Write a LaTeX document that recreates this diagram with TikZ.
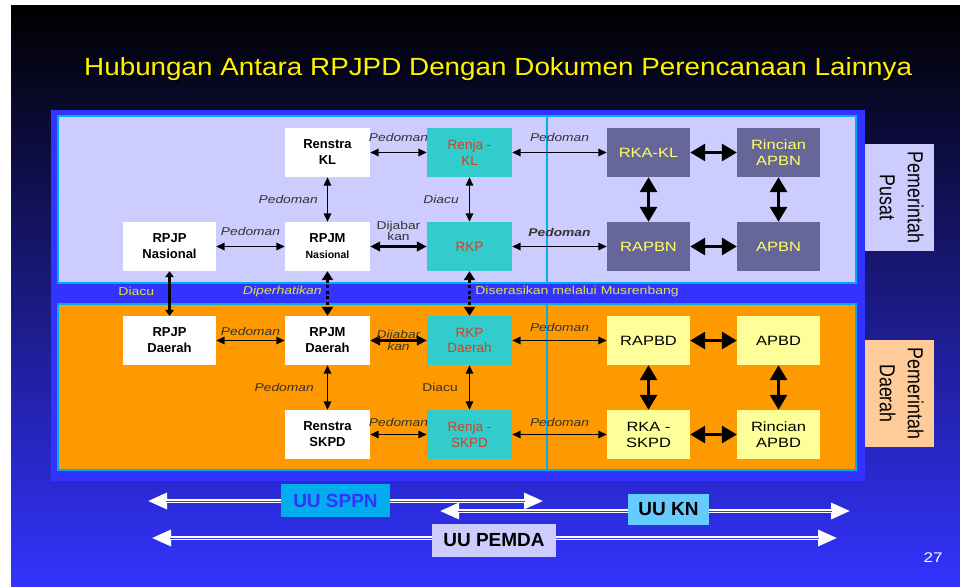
\documentclass[tikz,border=0pt]{standalone}
\usepackage{graphicx}
\usepackage{fontspec}
\setmainfont{Liberation Sans}
\newfontfamily\widesans{Liberation Sans}[FakeStretch=1.22]
\usetikzlibrary{arrows.meta,positioning}

\definecolor{panelblue}{RGB}{51,51,255}
\definecolor{lavender}{RGB}{204,204,255}
\definecolor{oranye}{RGB}{255,153,0}
\definecolor{tosca}{RGB}{51,204,204}
\definecolor{ungu}{RGB}{102,102,153}
\definecolor{krem}{RGB}{255,255,153}
\definecolor{karat}{RGB}{204,68,34}
\definecolor{kuningtxt}{RGB}{255,255,102}
\definecolor{kuningredup}{RGB}{225,225,70}
\definecolor{persik}{RGB}{255,204,153}
\definecolor{birumuda}{RGB}{102,204,255}

\newcommand\judul{Hubungan Antara RPJPD Dengan Dokumen Perencanaan Lainnya}

\begin{document}
\begin{tikzpicture}[x=1pt, y=-1pt,
  boxdok/.style={minimum width=85pt, minimum height=49pt, inner sep=0pt, align=center},
  boxputih/.style={boxdok, fill=white, font=\bfseries\fontsize{13}{16}\selectfont},
  boxtosca/.style={boxdok, fill=tosca, text=karat, font=\fontsize{13.5}{15.5}\selectfont},
  boxungu/.style={boxdok, minimum width=83pt, fill=ungu, text=kuningtxt, font=\widesans\fontsize{13.5}{16}\selectfont},
  boxkrem/.style={boxdok, minimum width=83pt, fill=krem, text=black, font=\widesans\fontsize{13.5}{16}\selectfont},
  lbl/.style={font=\widesans\itshape\fontsize{11.3}{11.5}\selectfont, text=black!80, inner sep=1pt, align=center},
  lbltegak/.style={lbl, font=\widesans\fontsize{11.3}{11.5}\selectfont},
  lblkuning/.style={lbltegak, text=kuningredup, font=\widesans\fontsize{11.5}{13}\selectfont},
  panah/.style={<->, >={Triangle[length=8.5pt,width=7.5pt]}, line width=1.6pt},
  panahtebal/.style={<->, >={Triangle[length=10pt,width=9.5pt]}, line width=3pt},
  panahgemuk/.style={<->, >={Triangle[length=15pt,width=17pt]}, line width=3pt},
  panahtitik/.style={<->, >={Triangle[length=9pt,width=11pt]}, line width=3.5pt, dash pattern=on 3pt off 2.5pt},
  panahuu/.style={<->, >={Triangle[length=19pt,width=16pt]}, white, line width=3.2pt,
    postaction={draw=panelblue, -, line width=0.9pt, shorten <=18pt, shorten >=18pt}},
  boxuu/.style={inner sep=0pt, font=\bfseries\fontsize{19}{22}\selectfont},
  boxsisi/.style={rotate=-90, minimum width=107pt, minimum height=69pt, inner sep=0pt, font=\fontsize{17.8}{23}\selectfont}
]
\useasboundingbox (0,0) rectangle (960,586);
\fill[white] (0,0) rectangle (960,586);
\shade[top color=black, bottom color=panelblue] (11,6) rectangle (960,586);

% judul
\node[anchor=base west, inner sep=0pt, text=black] (JUDULB) at (85.5,77.5) {\resizebox{828pt}{18pt}{\judul}};
\node[anchor=base west, inner sep=0pt, text=yellow] (JUDUL) at (84,76) {\resizebox{828pt}{18pt}{\judul}};

% panel
\fill[panelblue] (51,110) rectangle (865,481);
\filldraw[fill=lavender, draw=cyan, line width=2pt] (58,116) rectangle (856,283);
\filldraw[fill=oranye, draw=cyan, line width=2pt] (58,304) rectangle (856,470);
\draw[cyan, line width=1.5pt] (547,116) -- (547,283) (547,304) -- (547,470);

\node[boxsisi, fill=lavender] (PUSAT) at (899.5,197.5) {\scalebox{1}[1.22]{\begin{tabular}{@{}c@{}}Pemerintah\\Pusat\end{tabular}}};
\node[boxsisi, fill=persik] (DAERAH) at (899.5,393.5) {\scalebox{1}[1.22]{\begin{tabular}{@{}c@{}}Pemerintah\\Daerah\end{tabular}}};

%============ pusat
\node[boxputih] (RSKL) at (327.5,152.5) {Renstra\\KL};
\node[boxputih] (RPJMN) at (327.5,246.5) {RPJM\\{\fontsize{10.5}{12}\selectfont Nasional}};
\node[boxputih, minimum width=93pt] (RPJPN) at (169.5,246.5) {RPJP\\Nasional};
\node[boxtosca] (RJKL) at (469.5,152.5) {Renja -\\KL};
\node[boxtosca] (RKP) at (469.5,246.5) {RKP};
\node[boxungu] (RKAKL) at (648.5,152.5) {RKA-KL};
\node[boxungu] (RINAPBN) at (778.5,152.5) {Rincian\\APBN};
\node[boxungu] (RAPBN) at (648.5,246.5) {RAPBN};
\node[boxungu] (APBN) at (778.5,246.5) {APBN};
%============ daerah
\node[boxputih, minimum width=93pt] (RPJPD) at (169.5,340.5) {RPJP\\Daerah};
\node[boxputih] (RPJMD) at (327.5,340.5) {RPJM\\Daerah};
\node[boxputih] (RSSKPD) at (327.5,434.5) {Renstra\\SKPD};
\node[boxtosca] (RKPD) at (469.5,340.5) {RKP\\Daerah};
\node[boxtosca] (RJSKPD) at (469.5,434.5) {Renja -\\SKPD};
\node[boxkrem] (RAPBD) at (648.5,340.5) {RAPBD};
\node[boxkrem] (APBD) at (778.5,340.5) {APBD};
\node[boxkrem] (RKASKPD) at (648.5,434.5) {RKA -\\SKPD};
\node[boxkrem] (RINAPBD) at (778.5,434.5) {Rincian\\APBD};
%==========

\draw[panah] (RSKL) -- node[lbl, above=9pt] {Pedoman} (RJKL);
\draw[panah] (RJKL) -- node[lbl, above=9pt] {Pedoman} (RKAKL);
\draw[panah] (RSKL) -- node[lbl, left=8pt] {Pedoman} (RPJMN);
\draw[panah] (RPJPN) -- node[lbl, above=9pt] {Pedoman} (RPJMN);
\draw[panahtebal] (RPJMN) -- node[lbltegak, above=3pt] {Dijabar\\kan} (RKP);
\draw[panah] (RJKL) -- node[lbl, left=9pt] {Diacu} (RKP);
\draw[panah] (RKP) -- node[lbl, above=8pt, font=\widesans\bfseries\itshape\fontsize{11.3}{11.5}\selectfont] {Pedoman} (RAPBN);
\draw[panahgemuk] (RKAKL) -- (RINAPBN);
\draw[panahgemuk] (RAPBN) -- (APBN);
\draw[panahgemuk] (RKAKL) -- (RAPBN);
\draw[panahgemuk] (RINAPBN) -- (APBN);

\draw[<->, >={Triangle[length=6pt,width=8.5pt]}, line width=2.5pt] (RPJPN) -- node[lblkuning, left=13pt, pos=0.45] {Diacu} (RPJPD);
\draw[panahtitik] (RPJMN) -- node[lblkuning, left=3pt, pos=0.45, font=\widesans\itshape\fontsize{11.5}{13}\selectfont] {Diperhatikan} (RPJMD);
\draw[panahtitik] (RKP) -- node[lblkuning, right=3pt, pos=0.45] {Diserasikan melalui Musrenbang} (RKPD);

\draw[panah] (RPJPD) -- node[lbl, above=3.5pt] {Pedoman} (RPJMD);
\draw[panahtebal] (RPJMD) -- node[lbl] {Dijabar\\kan} (RKPD);
\draw[panah] (RPJMD) -- node[lbl, left=12pt] {Pedoman} (RSSKPD);
\draw[panah] (RSSKPD) -- node[lbl, above=6pt] {Pedoman} (RJSKPD);
\draw[panah] (RKPD) -- node[lbltegak, left=10pt] {Diacu} (RJSKPD);
\draw[panah] (RKPD) -- node[lbl, above=7.5pt] {Pedoman} (RAPBD);
\draw[panah] (RJSKPD) -- node[lbl, above=6pt] {Pedoman} (RKASKPD);
\draw[panahgemuk] (RAPBD) -- (APBD);
\draw[panahgemuk] (RKASKPD) -- (RINAPBD);
\draw[panahgemuk] (RAPBD) -- (RKASKPD);
\draw[panahgemuk] (APBD) -- (RINAPBD);

% undang-undang
\coordinate (SPPNa) at (148,501);
\coordinate (SPPNb) at (543,501);
\coordinate (KNa) at (440,511);
\coordinate (KNb) at (850,511);
\coordinate (PEMDAa) at (152,538);
\coordinate (PEMDAb) at (837,538);
\draw[panahuu] (SPPNa) -- (SPPNb);
\node[boxuu, fill=cyan, text=panelblue, minimum width=109pt, minimum height=33pt] (UUSPPN) at (335.5,500.5) {UU SPPN};
\draw[panahuu] (KNa) -- (KNb);
\node[boxuu, fill=birumuda, text=black, minimum width=81pt, minimum height=31pt] (UUKN) at (668.5,509.5) {UU KN};
\draw[panahuu] (PEMDAa) -- (PEMDAb);
\node[boxuu, fill=lavender, text=black, minimum width=124pt, minimum height=33pt] (UUPEMDA) at (494,540.5) {UU PEMDA};

\node[text=white, font=\widesans\fontsize{14}{16}\selectfont] (HAL) at (933,557.5) {27};
\end{tikzpicture}
\end{document}
